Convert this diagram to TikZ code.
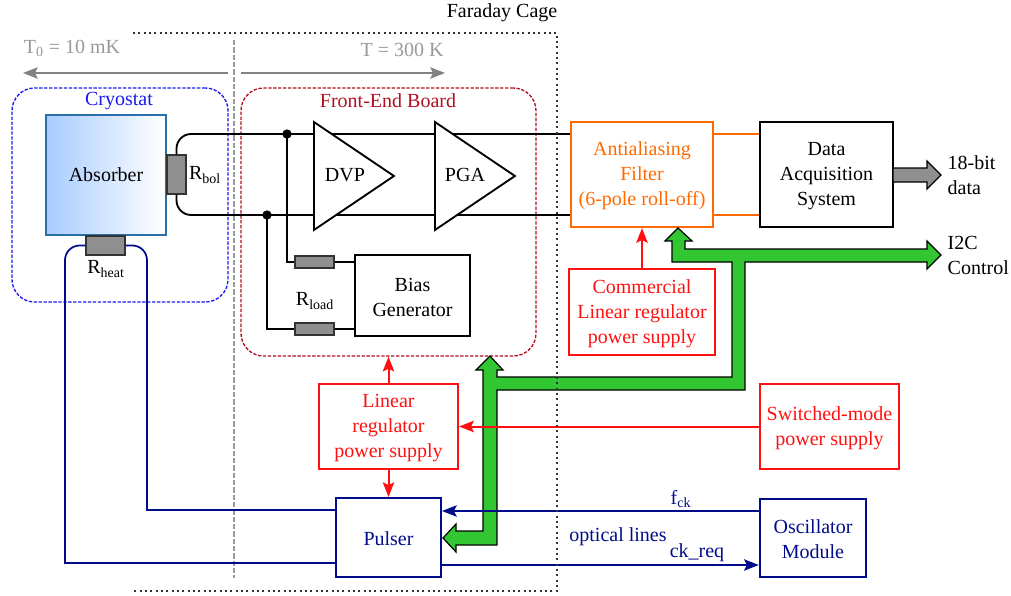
\documentclass[tikz,border=0pt]{standalone}
\usepackage{fontspec}
\setmainfont{Liberation Serif}
\usepackage{xcolor}
\usetikzlibrary{arrows.meta, positioning, shapes.geometric}
\definecolor{cryoblue}{HTML}{1a1aee}
\definecolor{boardred}{HTML}{b01020}
\definecolor{filterorange}{HTML}{ff6a00}
\definecolor{powerred}{HTML}{ff1010}
\definecolor{linenavy}{HTML}{000c8a}
\definecolor{busgreen}{HTML}{33c633}
\definecolor{resgray}{HTML}{8f8f8f}
\definecolor{tempgray}{HTML}{999999}
\definecolor{absblue}{HTML}{a8ccff}
\definecolor{absedge}{HTML}{2a6fa8}
\newcommand{\boxstrut}{\rule{0pt}{12.5pt}}
\tikzset{
	% Define standard arrow tip
	>={Stealth[length=11pt,width=8.5pt,inset=2pt]},
	% Boxes
	blackbox/.style={rectangle, draw=black, line width=1.5pt, align=center},
	filterbox/.style={rectangle, draw=filterorange, line width=1.6pt, align=center, text=filterorange},
	powerbox/.style={rectangle, draw=powerred, line width=1.6pt, align=center, text=powerred},
	navybox/.style={rectangle, draw=linenavy, line width=1.5pt, align=center, text=linenavy},
	zone/.style={rectangle, rounded corners=17pt, line width=1pt, dash pattern=on 2.5pt off 1.2pt},
	res/.style={rectangle, draw=black!80, fill=resgray, line width=0.9pt, inner sep=0},
	amp/.style={isosceles triangle, isosceles triangle stretches, shape border rotate=0, draw=black, fill=white, line width=1.4pt, inner sep=0, minimum width=81pt, minimum height=60pt, anchor=lower side},
	junction/.style={circle, fill=black, inner sep=0, minimum size=7pt},
	% Define wire styles
	wire/.style={draw=black, line width=1.4pt},
	navywire/.style={draw=linenavy, line width=1.3pt},
	powerpil/.style={->, draw=powerred, line width=1.5pt},
	navypil/.style={->, draw=linenavy, line width=1.3pt},
	temppil/.style={->, draw=tempgray!85!black, line width=1.3pt},
	bus/.style={draw=black, fill=busgreen, line width=0.9pt, line join=miter}
}
\begin{document}
\begin{tikzpicture}[x=0.75pt, y=-0.75pt, every node/.append style={font=\fontsize{15}{18.75}\selectfont}]
\useasboundingbox (0,0) rectangle (1011,596);

% zones
\node[zone, draw=cryoblue, minimum width=162pt, minimum height=160.5pt] at (120,195) (Cryostat) {};
\node[zone, draw=boardred, minimum width=221.25pt, minimum height=201pt] at (388.5,222) (Board) {};
\node[text=cryoblue] at (119,101) (CryoLabel) {Cryostat};
\node[text=boardred] at (388,101) (BoardLabel) {Front-End Board};

% temperatures
\coordinate (tempsplit) at (234,40);
\coordinate (tempend) at (234,578);
\coordinate (coldL) at (228,73);
\coordinate (coldE) at (23,73);
\coordinate (warmL) at (241,73);
\coordinate (warmE) at (445,73);
\path[draw=tempgray, line width=0.8pt, dash pattern=on 4pt off 1.5pt] (tempsplit) -- (tempend);
\path[temppil] (coldL) -- (coldE);
\path[temppil] (warmL) -- (warmE);
\node[text=tempgray] at (72,48) (T0) {T\textsubscript{0} = 10 mK};
\node[text=tempgray] at (402,50) (T1) {T = 300 K};

% right side blocks
\node[filterbox, minimum width=106.5pt, minimum height=78.75pt] at (642,174.5) (Filter) {\boxstrut Antialiasing\\Filter\\(6-pole roll-off)};
\node[blackbox, line width=2.2pt, minimum width=99.75pt, minimum height=78.75pt] at (826.5,174.5) (DAQ) {\boxstrut Data\\Acquisition\\System};
\node[powerbox, minimum width=109.5pt, minimum height=64.5pt] at (642,312) (Commercial) {\boxstrut Commercial\\Linear regulator\\power supply};
\node[powerbox, minimum width=104.25pt, minimum height=63.75pt] at (388.5,426.5) (Linear) {\boxstrut Linear\\regulator\\power supply};
\node[powerbox, minimum width=104.25pt, minimum height=63.75pt] at (829.5,426.5) (Switched) {\boxstrut Switched-mode\\power supply};
\node[navybox, minimum width=78.75pt, minimum height=59.25pt] at (388.5,537.5) (Pulser) {\boxstrut Pulser};
\node[navybox, line width=1.8pt, minimum width=79.5pt, minimum height=58.5pt] at (813,538) (Oscillator) {\boxstrut Oscillator\\Module};

\node[align=left, anchor=west] at (943,175) (Data) {18-bit\\data};
\node[align=left, anchor=west] at (943,255) (I2C) {I2C\\Control};

% data bus
\coordinate (busfilter) at (678,228);
\coordinate (busi2c) at (941,255);
\coordinate (busboard) at (490,356);
\coordinate (buspulser) at (443,538);
\path[bus] (busfilter) -- ++(14,13) -- ++(-7,0) -- ++(0,8) -- ++(242,0) -- ++(0,-8)
	-- (busi2c) -- ++(-14,14) -- ++(0,-7) -- ++(-182,0) -- ++(0,128) -- ++(-248,0) -- ++(0,155) -- ++(-41,0) -- ++(0,7)
	-- (buspulser) -- ++(13,-14) -- ++(0,7) -- ++(27,0) -- ++(0,-161) -- ++(-7,0)
	-- (busboard) -- ++(13,14) -- ++(-6,0) -- ++(0,7) -- ++(235,0) -- ++(0,-115) -- ++(-60,0) -- ++(0,-21) -- ++(-7,0) -- cycle;

% data out
\coordinate (dataout) at (893,175);
\coordinate (datatip) at (941,175);
\path[draw=black, fill=resgray, line width=0.9pt] (dataout) ++(0,-7) -- ++(34,0) -- ++(0,-7) -- (datatip) -- ++(-14,14) -- ++(0,-7) -- ++(-34,0) -- cycle;

% cryostat
\node[rectangle, draw=absedge, line width=1.3pt, left color=absblue, right color=white, minimum size=90pt] at (106,175) (Absorber) {Absorber};
\node[res, minimum width=14.25pt, minimum height=29.25pt] at (176.5,174.5) (Rbol) {};
\node[res, minimum width=29.25pt, minimum height=14.25pt] at (105.5,245.5) (Rheat) {};
\node at (205,175) (RbolLabel) {R\textsubscript{bol}};
\node at (106,269) (RheatLabel) {R\textsubscript{heat}};

% signal path
\node[junction] at (287,134) (topdot) {};
\node[junction] at (267,215) (botdot) {};
\path[wire, rounded corners=11pt] (Rbol.north) |- (topdot.center);
\path[wire] (topdot.center) -- (Filter.west |- topdot);
\path[wire, rounded corners=11pt] (Rbol.south) |- (botdot.center);
\path[wire] (botdot.center) -- (Filter.west |- botdot);
\path[draw=filterorange, line width=1.4pt] (Filter.east |- topdot) -- (DAQ.west |- topdot);
\path[draw=filterorange, line width=1.4pt] (Filter.east |- botdot) -- (DAQ.west |- botdot);

\node[amp] at (313,176) (DVP) {};
\node[amp] at (434,176) (PGA) {};
\node at (345,175) (DVPLabel) {DVP};
\node at (465,175) (PGALabel) {PGA};

% bias
\node[blackbox, minimum width=86.25pt, minimum height=60.75pt] at (412.5,295.5) (Bias) {\boxstrut Bias\\Generator};
\node[res, minimum width=29.25pt, minimum height=9pt] at (314.5,262) (Rload1) {};
\node[res, minimum width=29.25pt, minimum height=9pt] at (314.5,329) (Rload2) {};
\node at (315,301) (RloadLabel) {R\textsubscript{load}};
\path[draw=black, line width=1.1pt] (topdot.center) |- (Rload1.west);
\path[draw=black, line width=1.1pt] (botdot.center) |- (Rload2.west);
\path[draw=black, line width=1.1pt] (Rload1.east) -- (Bias.west |- Rload1);
\path[draw=black, line width=1.1pt] (Rload2.east) -- (Bias.west |- Rload2);

% power
\path[powerpil] (Commercial.north) -- (Filter.south);
\path[powerpil] (Linear.north) -- (Board.south);
\path[powerpil] (Linear.south) -- (Pulser.north);
\path[powerpil] (Switched.west) -- (Linear.east);

% pulser lines
\coordinate (heatL) at (65,563);
\coordinate (heatR) at (147,510);
\path[navywire, rounded corners=11pt] (Rheat.west) -| (heatL);
\path[navywire, line cap=rect] (heatL) -- (Pulser.west |- heatL);
\path[navywire, rounded corners=11pt] (Rheat.east) -| (heatR);
\path[navywire, line cap=rect] (heatR) -- (Pulser.west |- heatR);
\coordinate (fck) at (760,511);
\coordinate (ckreq) at (442,565);
\path[navypil] (Oscillator.west |- fck) -- (Pulser.east |- fck);
\path[navypil] (Pulser.east |- ckreq) -- (Oscillator.west |- ckreq);
\node[text=linenavy] at (681,499) (fckLabel) {f\textsubscript{ck}};
\node[text=linenavy] at (697,553) (ckreqLabel) {ck\_req};
\node[text=linenavy] at (618,537) (OpticalLabel) {optical lines};

% faraday cage
\coordinate (cageTL) at (133,33);
\coordinate (cageTR) at (557,33);
\coordinate (cageBR) at (557,591);
\coordinate (cageBL) at (133,591);
\path[draw=black!80, line width=1pt, dash pattern=on 1.5pt off 2.5pt] (cageTL) -- (cageTR) -- (cageBR) -- (cageBL);
\node at (502,13) (CageLabel) {Faraday Cage};

\end{tikzpicture}
\end{document}
